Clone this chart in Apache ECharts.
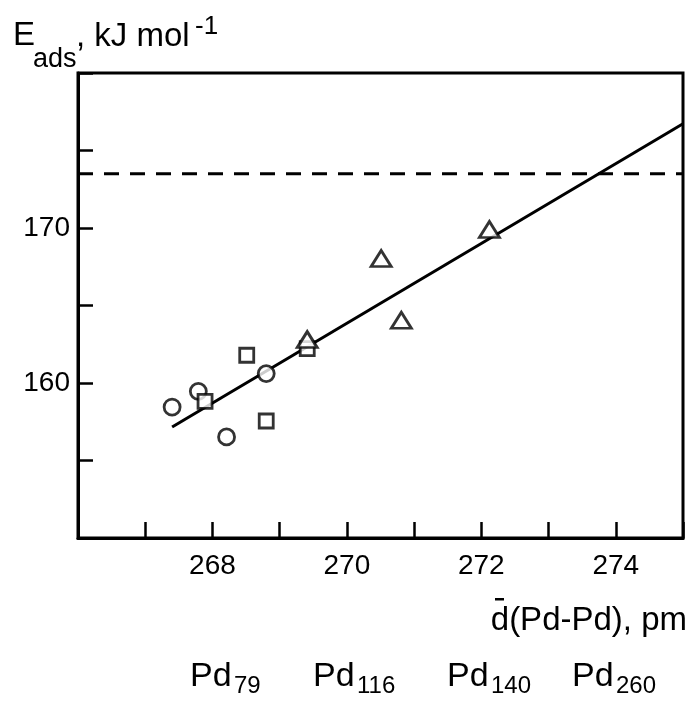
<!DOCTYPE html>
<html>
<head>
<meta charset="utf-8">
<script src="https://cdn.jsdelivr.net/npm/echarts@6/dist/echarts.min.js"></script>
<style>
html,body{margin:0;padding:0;background:#fff;}
#chart{width:691px;height:704px;}
</style>
</head>
<body>
<div id="chart"></div>
<script>
// ---- data ----
const circles = [[267.40,158.45],[267.79,159.46],[268.21,156.52],[268.80,160.61]];
const squares = [[267.89,158.82],[268.51,161.79],[268.80,157.55],[269.41,162.22]];
const triangles = [[269.41,162.80],[270.51,168.03],[270.81,164.05],[272.12,169.90]];
const fitLine = [[267.40,157.16],[275.00,176.73]];
const refLevel = 173.5;
const xMin = 266, xMax = 275, yMin = 150, yMax = 180;
const xTickLabels = [268,270,272,274];
const yTickLabels = [160,170];
const clusterNames = ['79','116','140','260'];

// ---- layout ----
const FONT = '"Liberation Sans", Arial, Helvetica, sans-serif';
const clusterX = [190, 313, 447, 572];

const chart = echarts.init(document.getElementById('chart'), null, {renderer:'canvas'});

const markerStyle = {color:'#fff', borderColor:'#000', borderWidth:2.8};

const graphics = [];
function txt(text, x, y, size, align){
  return {type:'text', z:10, style:{text:text, x:x, y:y, font:size+'px '+FONT, fill:'#000',
    textAlign:align||'left', align:align||'left', textVerticalAlign:'middle', verticalAlign:'middle'}};
}
// y-axis title
graphics.push(txt('E', 13, 36, 33));
graphics.push(txt('ads', 33, 60, 27));
graphics.push(txt(', kJ mol', 76, 37, 33));
graphics.push(txt('-1', 195, 27, 26));
// x-axis title
graphics.push(txt('d(Pd-Pd), pm', 687, 621, 33, 'right'));
graphics.push({type:'rect', z:10, shape:{x:495, y:598, width:9, height:2.5}, style:{fill:'#000'}});
// cluster labels
clusterNames.forEach((n,i)=>{
  graphics.push(txt('Pd', clusterX[i], 677, 34));
  graphics.push(txt(n, clusterX[i]+44, 686, 24));
});

const option = {
  animation:false,
  backgroundColor:'#fff',
  grid:{left:78, right:8, top:73, bottom:166, show:true, borderColor:'#000', borderWidth:3, backgroundColor:'transparent'},
  xAxis:{
    type:'value', min:xMin, max:xMax, interval:1,
    axisLine:{show:true, onZero:false, lineStyle:{color:'#000', width:3}},
    axisTick:{show:true, inside:true, length:16, lineStyle:{color:'#000', width:2.5}},
    splitLine:{show:false},
    axisLabel:{color:'#000', fontSize:28, fontFamily:FONT, margin:14,
      formatter:v=> xTickLabels.includes(v) ? String(v) : ''}
  },
  yAxis:{
    type:'value', min:yMin, max:yMax, interval:5,
    axisLine:{show:true, onZero:false, lineStyle:{color:'#000', width:3}},
    axisTick:{show:true, inside:true, length:15, lineStyle:{color:'#000', width:2.5}},
    splitLine:{show:false},
    axisLabel:{color:'#000', fontSize:28, fontFamily:FONT, margin:8,
      formatter:v=> yTickLabels.includes(v) ? String(v) : ''}
  },
  series:[
    {type:'line', data:[[xMin,refLevel],[xMax,refLevel]], symbol:'none', z:2,
      lineStyle:{color:'#000', width:3, type:[15,11]}},
    {type:'line', data:fitLine, symbol:'none', z:2,
      lineStyle:{color:'#000', width:3}},
    {type:'scatter', data:circles, symbol:'circle', symbolSize:16, z:5, itemStyle:markerStyle},
    {type:'scatter', data:squares, symbol:'rect', symbolSize:14, z:5, itemStyle:markerStyle},
    {type:'scatter', data:triangles, symbol:'triangle', symbolSize:[20,16], z:6, itemStyle:markerStyle}
  ],
  graphic:graphics
};
chart.setOption(option);
</script>
</body>
</html>
